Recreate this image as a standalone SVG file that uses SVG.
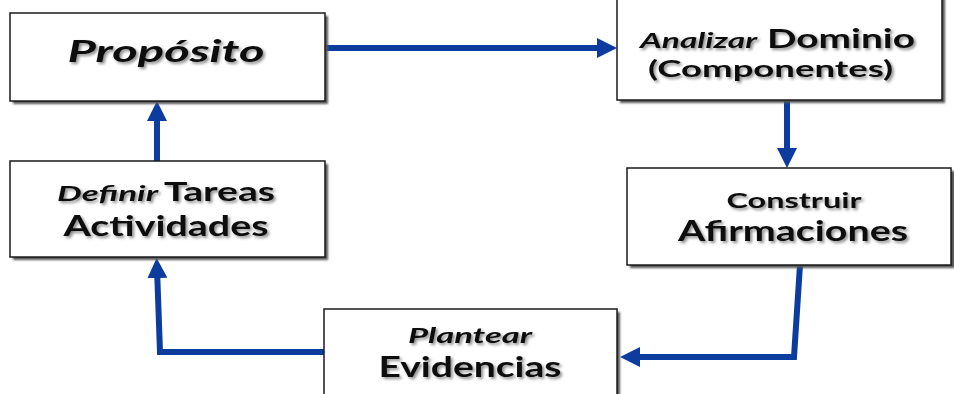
<svg xmlns="http://www.w3.org/2000/svg" width="954" height="394" viewBox="0 0 954 394">
<defs>
<style>
.box{fill:#ffffff;stroke:#1a1a1a;stroke-width:1.5}
.sh{fill:#555555;filter:url(#bs)}
.t{font-family:Lato,"Open Sans","DejaVu Sans",sans-serif;font-weight:700;fill:#111111;filter:url(#ts)}
.i{font-style:italic}
.c{fill:none;stroke:#0b3c9e;stroke-width:6;stroke-linejoin:miter}
</style>
<filter id="ts" x="-10%" y="-30%" width="120%" height="160%">
<feGaussianBlur in="SourceAlpha" stdDeviation="1.6"/>
<feOffset dx="2" dy="2" result="b"/>
<feFlood flood-color="#000000" flood-opacity="0.45"/>
<feComposite in2="b" operator="in" result="s"/>
<feMerge><feMergeNode in="s"/><feMergeNode in="SourceGraphic"/></feMerge>
</filter>
<filter id="bs" x="-5%" y="-5%" width="110%" height="110%">
<feGaussianBlur stdDeviation="1"/>
</filter>
<marker id="ah" viewBox="0 0 20 20" refX="10" refY="10" markerWidth="20" markerHeight="20" markerUnits="userSpaceOnUse" orient="auto">
<path d="M0,0 L20,10 L0,20 z" fill="#0b3c9e"/>
</marker>
</defs>

<g id="connectors">
<path class="c" d="M326,48 L607,48" marker-end="url(#ah)"/>
<path class="c" d="M787,101 L787,158" marker-end="url(#ah)"/>
<path class="c" d="M800,265 L794,357 L630,357" marker-end="url(#ah)"/>
<path class="c" d="M324,352 L160,352 L157,268" marker-end="url(#ah)"/>
<path class="c" d="M157,161 L157,111" marker-end="url(#ah)"/>
</g>

<g id="proposito">
<rect class="sh" x="13" y="16" width="315" height="88"/>
<rect class="box" x="10" y="13" width="315" height="88"/>
<text class="t i" x="166" y="62" font-size="30" text-anchor="middle" textLength="197" lengthAdjust="spacingAndGlyphs">Propósito</text>
</g>

<g id="analizar">
<rect class="sh" x="620" y="-5" width="325" height="108"/>
<rect class="box" x="617" y="-8" width="325" height="108"/>
<text class="t i" x="640" y="48" font-size="21" textLength="117" lengthAdjust="spacingAndGlyphs">Analizar</text>
<text class="t" x="767" y="48" font-size="27" textLength="148" lengthAdjust="spacingAndGlyphs">Dominio</text>
<text class="t" x="648" y="77" font-size="23" textLength="245" lengthAdjust="spacingAndGlyphs">(Componentes)</text>
</g>

<g id="construir">
<rect class="sh" x="630" y="171" width="325" height="97"/>
<rect class="box" x="627" y="168" width="324" height="97"/>
<text class="t" x="794" y="208" font-size="21" text-anchor="middle" textLength="135" lengthAdjust="spacingAndGlyphs">Construir</text>
<text class="t" x="793" y="241" font-size="28" text-anchor="middle" textLength="230" lengthAdjust="spacingAndGlyphs">Afirmaciones</text>
</g>

<g id="plantear">
<rect class="sh" x="327" y="312" width="293" height="95"/>
<rect class="box" x="324" y="309" width="293" height="95"/>
<text class="t i" x="470" y="343" font-size="21" text-anchor="middle" textLength="124" lengthAdjust="spacingAndGlyphs">Plantear</text>
<text class="t" x="470" y="377" font-size="28" text-anchor="middle" textLength="183" lengthAdjust="spacingAndGlyphs">Evidencias</text>
</g>

<g id="definir">
<rect class="sh" x="13" y="164" width="315" height="96"/>
<rect class="box" x="10" y="161" width="315" height="96"/>
<text class="t i" x="57" y="201" font-size="21" textLength="101" lengthAdjust="spacingAndGlyphs">Definir</text>
<text class="t" x="164" y="201" font-size="27" textLength="111" lengthAdjust="spacingAndGlyphs">Tareas</text>
<text class="t" x="166" y="236" font-size="28" text-anchor="middle" textLength="205" lengthAdjust="spacingAndGlyphs">Actividades</text>
</g>
</svg>
